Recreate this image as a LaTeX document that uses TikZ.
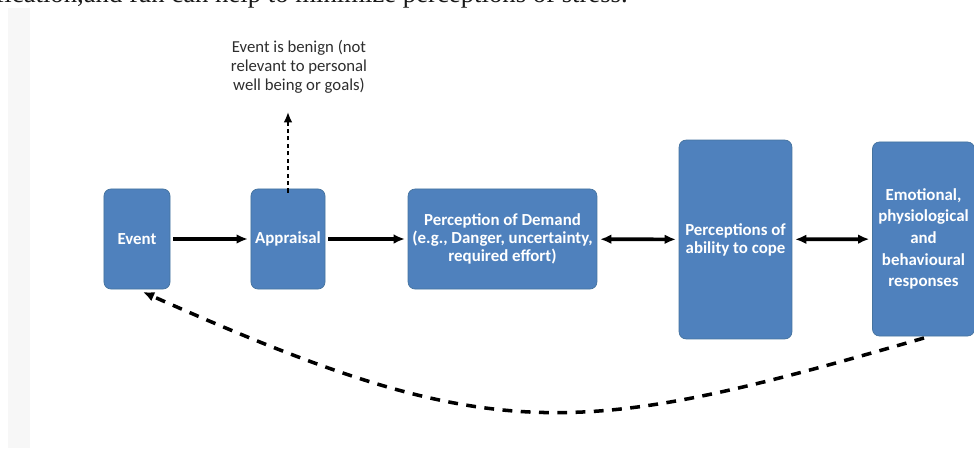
\documentclass[tikz,border=0pt]{standalone}
\usepackage{fontspec}
\setmainfont{Carlito}
\newfontfamily\pageserif{Liberation Serif}
\usetikzlibrary{arrows.meta}
\definecolor{boxblue}{HTML}{4F81BD}
\definecolor{boxedge}{HTML}{45739F}
\definecolor{notegray}{HTML}{2E2E2E}
\definecolor{stripgray}{HTML}{F7F7F7}
\tikzset{
  stagebox/.style={draw=boxedge, line width=0.5pt, fill=boxblue, rounded corners=5pt, text=white, align=center, inner sep=1pt, font=\bfseries\fontsize{12}{12.8}\selectfont},
  flow/.style={-{Latex[length=2.8mm,width=2.4mm]}, line width=2.6pt, shorten <=2pt, shorten >=2pt},
  twoway/.style={{Latex[length=2.8mm,width=2.4mm]}-{Latex[length=2.8mm,width=2.4mm]}, line width=2.6pt, shorten <=2pt, shorten >=2pt},
  benignline/.style={-{Latex[length=2.6mm,width=2.2mm]}, line width=1.3pt, dash pattern=on 3pt off 2.3pt},
  backloop/.style={-{Latex[length=2.8mm,width=2.5mm]}, line width=2.5pt, dash pattern=on 7pt off 6pt},
  notetext/.style={align=center, text=notegray, inner sep=0pt, font=\fontsize{11.9}{13.5}\selectfont},
}

\begin{document}
\begin{tikzpicture}[x=0.025cm, y=-0.025cm]
  \useasboundingbox (0,0) rectangle (974,448);
  \clip (0,0) rectangle (974,448);
  \fill[white] (0,0) rectangle (974,448);

  % page strip and cut-off line of text above the figure
  \fill[stripgray] (8,8) rectangle (30,448);
  \node[anchor=base east, inner sep=0pt, text=black!90, font=\pageserif\fontsize{19}{22}\selectfont] (pageline) at (628,2) {fication,and fun can help to minimize perceptions of stress.};

  % stages
  \node[stagebox, minimum width=1.65cm, minimum height=2.5cm] (event) at (137,239) {Event};
  \node[stagebox, minimum width=1.85cm, minimum height=2.5cm] (appraisal) at (288,239) {Appraisal};
  \node[stagebox, minimum width=4.72cm, minimum height=2.5cm] (demand) at (502.5,239) {Perception of Demand\\(e.g., Danger, uncertainty,\\required effort)};
  \node[stagebox, minimum width=2.82cm, minimum height=4.97cm] (cope) at (735.5,239.5) {Perceptions of\\ability to cope};
  \node[stagebox, minimum width=2.55cm, minimum height=4.85cm, font=\bfseries\fontsize{12}{15.4}\selectfont] (response) at (923.5,239) {Emotional,\\physiological\\and\\behavioural\\responses};

  \draw[flow] (event) -- (appraisal);
  \draw[flow] (appraisal) -- (demand);
  \draw[twoway] (demand) -- (cope);
  \draw[twoway] (cope) -- (response);

  % benign outcome
  \node[notetext] (benign) at (299,67) {Event is benign (not\\relevant to personal\\well being or goals)};
  \coordinate (benigntip) at (288,112);
  \draw[benignline] ([yshift=-0.1cm]appraisal.north) -- (benigntip);

  % feedback loop
  \coordinate (loopstart) at (924,338);
  \coordinate (looptip) at (143,292);
  \draw[backloop] (loopstart) .. controls (574,439) and (496,449) .. (looptip);
\end{tikzpicture}
\end{document}
